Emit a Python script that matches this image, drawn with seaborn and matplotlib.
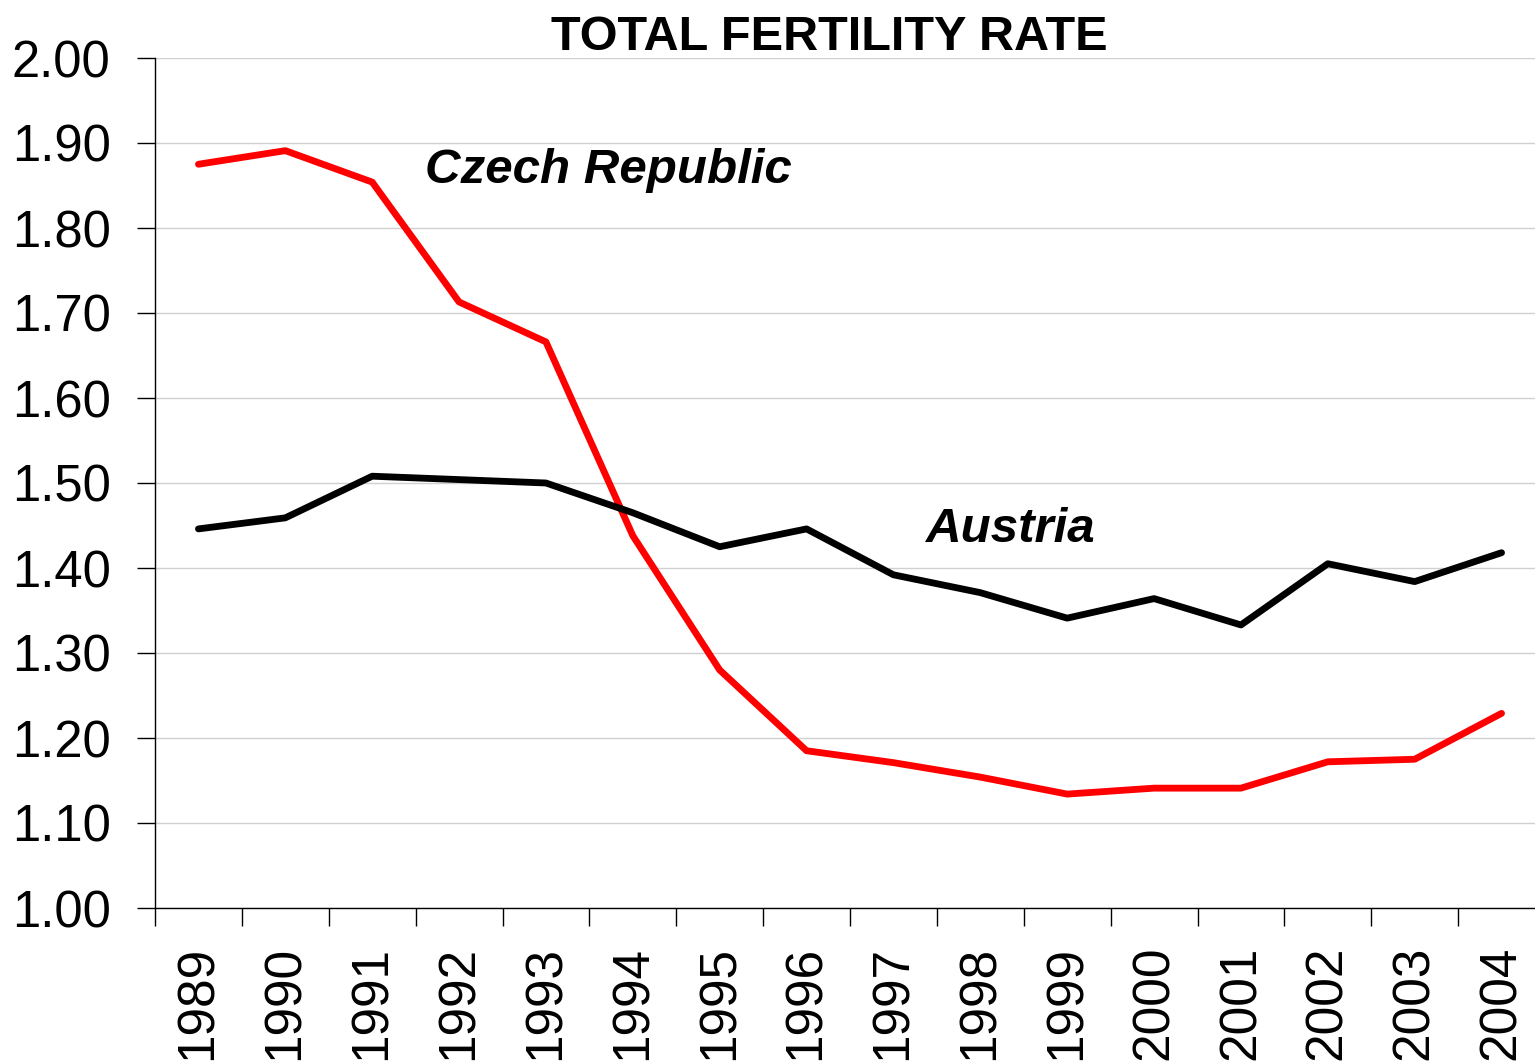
import matplotlib
matplotlib.use("Agg")
import matplotlib.pyplot as plt
import seaborn as sns
import pandas as pd
import numpy as np

years = ["1989", "1990", "1991", "1992", "1993", "1994", "1995", "1996",
         "1997", "1998", "1999", "2000", "2001", "2002", "2003", "2004"]
czech = [1.875, 1.891, 1.854, 1.713, 1.666, 1.438, 1.280, 1.185,
         1.171, 1.154, 1.134, 1.141, 1.141, 1.172, 1.175, 1.229]
austria = [1.446, 1.459, 1.508, 1.504, 1.500, 1.465, 1.425, 1.446,
           1.392, 1.371, 1.341, 1.364, 1.333, 1.405, 1.384, 1.418]
series_names = ["Czech Republic", "Austria"]
yticks = [1.00, 1.10, 1.20, 1.30, 1.40, 1.50, 1.60, 1.70, 1.80, 1.90, 2.00]

sns.set_theme(style="white")
plt.rcParams['font.family'] = ['Liberation Sans', 'DejaVu Sans']
plt.rcParams['text.color'] = '#000000'
plt.rcParams['xtick.color'] = '#000000'
plt.rcParams['ytick.color'] = '#000000'
plt.rcParams['axes.labelcolor'] = '#000000'

idx = np.arange(len(years))
df = pd.DataFrame({
    "x": np.concatenate([idx, idx]),
    "value": czech + austria,
    "series": [series_names[0]] * len(years) + [series_names[1]] * len(years),
})

fig = plt.figure(figsize=(15.35, 10.64), dpi=100)
ax = fig.add_axes([155 / 1535, 1 - 908 / 1064, 1390 / 1535, 850 / 1064])

sns.lineplot(data=df, x="x", y="value", hue="series",
             palette={series_names[0]: "#ff0000", series_names[1]: "#000000"},
             linewidth=4.9, legend=False, ax=ax)

ax.set_xlim(-0.5, len(years) - 0.5)
ax.set_ylim(1.0, 2.0)
ax.set_yticks(yticks)
ax.set_yticklabels([f"{v:.2f}" for v in yticks], fontsize=36.5, color="#000000")
ax.yaxis.grid(True, color="#d0d0d0", linewidth=1.0)
ax.set_axisbelow(True)

# boundaries as major ticks (marks), centers as minor ticks (labels)
ax.set_xticks(np.arange(-0.5, len(years), 1.0))
ax.set_xticklabels([])
ax.set_xticks(idx, minor=True)
ax.set_xticklabels(years, minor=True, rotation=90, fontsize=37, color="#000000")
ax.tick_params(axis="x", which="major", direction="out", length=13, width=1.0,
               color="#000000", bottom=True)
ax.tick_params(axis="x", which="minor", length=0, pad=27, bottom=True)
ax.tick_params(axis="y", direction="out", length=13, width=1.0, color="#000000",
               pad=19, left=True)

for side in ["top", "right"]:
    ax.spines[side].set_visible(False)
for side in ["left", "bottom"]:
    ax.spines[side].set_color("#000000")
    ax.spines[side].set_linewidth(1.0)

ax.set_xlabel("")
ax.set_ylabel("")

ax.text(2.61, 1.853, "Czech Republic", fontsize=35.5, fontweight="bold",
        fontstyle="italic", ha="left", va="baseline", color="#000000")
ax.text(8.36, 1.4306, "Austria", fontsize=35.5, fontweight="bold",
        fontstyle="italic", ha="left", va="baseline", color="#000000")

fig.text(829 / 1535, 1 - 37 / 1064, "TOTAL FERTILITY RATE", fontsize=35,
         fontweight="bold", ha="center", va="center", color="#000000")

fig.savefig("out.png", dpi=100)
